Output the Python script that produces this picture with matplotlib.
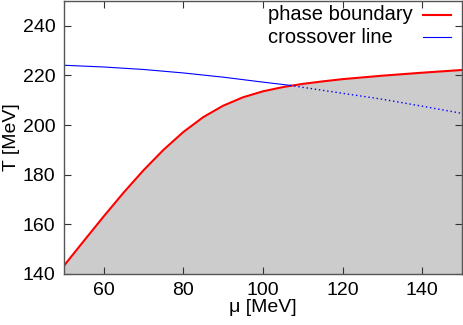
import matplotlib
matplotlib.use("Agg")
import matplotlib.pyplot as plt

plt.rcParams['font.family'] = ['Liberation Sans', 'DejaVu Sans']

# phase boundary (red)
mu_pb = [50, 55, 60, 65, 70, 75, 80, 85, 90, 95, 100, 105, 110, 115, 120, 130, 140, 150]
T_pb = [143.3, 153.3, 163.2, 172.8, 181.8, 190.0, 197.2, 203.2, 207.8, 211.2,
        213.6, 215.3, 216.6, 217.6, 218.5, 219.9, 221.1, 222.2]

# crossover line, solid part
mu_co = [50, 60, 70, 80, 90, 100, 106.8]
T_co = [224.1, 223.4, 222.4, 221.0, 219.3, 217.3, 216.0]

# crossover line, dotted continuation
mu_cd = [106.8, 110, 120, 130, 140, 150]
T_cd = [216.0, 215.2, 212.8, 210.4, 207.6, 204.7]

labels = ['phase boundary', 'crossover line']
colors = ['red', 'blue']
widths = [1.5, 0.8]

fig = plt.figure(figsize=(4.63, 3.25), dpi=100)
ax = fig.add_axes([0.138, 0.157, 0.86, 0.84])

ax.fill_between(mu_pb, 140, T_pb, color='#cccccc', linewidth=0)
ax.plot(mu_pb, T_pb, color=colors[0], lw=widths[0])
ax.plot(mu_co, T_co, color=colors[1], lw=widths[1])
ax.plot(mu_cd, T_cd, color='blue', lw=1.0, linestyle=(0, (1, 2)))

# gnuplot-style key: left-aligned text, line sample on the right
for i, (lab, c, w) in enumerate(zip(labels, colors, widths)):
    y = 0.949 - i * 0.081
    ax.text(0.512, y, lab, transform=ax.transAxes, ha='left', va='center', fontsize=14.5)
    ax.plot([0.902, 0.972], [y, y], transform=ax.transAxes, color=c, lw=w)

ax.set_xlim(50, 150)
ax.set_ylim(140, 250)
ax.set_xticks([60, 80, 100, 120, 140])
ax.set_yticks([140, 160, 180, 200, 220, 240])
ax.tick_params(direction='in', top=True, right=True, labelsize=14,
               length=5, width=0.8, color='#333333', pad=6)
for s in ax.spines.values():
    s.set_color('#555555')
    s.set_linewidth(1.0)

ax.set_xlabel('μ [MeV]', fontsize=14, labelpad=0)
ax.set_ylabel('T [MeV]', fontsize=14, labelpad=2)

fig.savefig('out.png', dpi=100)
